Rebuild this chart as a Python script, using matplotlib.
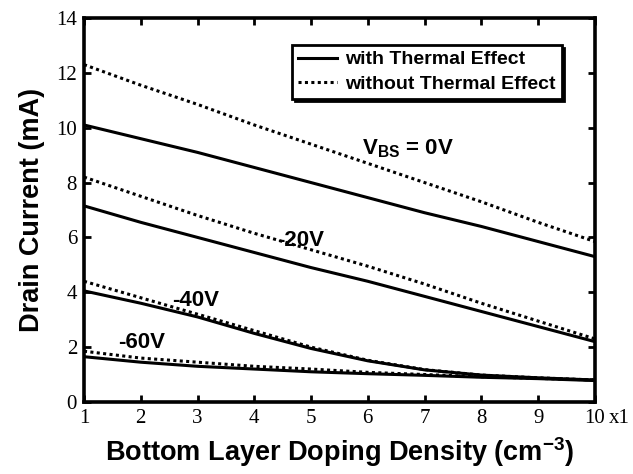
import numpy as np
import matplotlib
matplotlib.use('Agg')
import matplotlib.pyplot as plt

# Doping density (x 1e17 cm^-3)
x = [1, 2, 3, 4, 5, 6, 7, 8, 9, 10]

# Drain current (mA), with / without thermal effect
with_0v = [10.1, 9.6, 9.1, 8.55, 8.0, 7.45, 6.9, 6.4, 5.85, 5.3]
wo_0v = [12.3, 11.55, 10.85, 10.1, 9.4, 8.7, 8.0, 7.3, 6.55, 5.85]
with_20v = [7.15, 6.55, 6.0, 5.45, 4.9, 4.4, 3.85, 3.3, 2.75, 2.2]
wo_20v = [8.2, 7.5, 6.8, 6.15, 5.55, 4.95, 4.3, 3.6, 2.95, 2.3]
with_40v = [4.05, 3.6, 3.1, 2.5, 1.95, 1.5, 1.17, 0.98, 0.88, 0.8]
wo_40v = [4.4, 3.8, 3.2, 2.6, 2.0, 1.52, 1.18, 0.98, 0.88, 0.8]
with_60v = [1.65, 1.45, 1.3, 1.2, 1.1, 1.03, 0.97, 0.9, 0.85, 0.78]
wo_60v = [1.85, 1.6, 1.45, 1.3, 1.2, 1.08, 1.0, 0.92, 0.86, 0.8]

curve_labels = ['$\\mathregular{V_{BS}}$ = 0V', '-20V', '-40V', '-60V']
label_pos = [(5.9, 9.25), (4.4, 5.9), (2.55, 3.7), (1.6, 2.15)]

fig = plt.figure(figsize=(6.33, 4.74), dpi=100)
ax = fig.add_axes([0.1327, 0.152, 0.807, 0.810])

lw = 2.2
dots = (0, (1, 1.1))
for w, wo in [(with_0v, wo_0v), (with_20v, wo_20v), (with_40v, wo_40v), (with_60v, wo_60v)]:
    ax.plot(x, w, color='black', lw=lw, solid_capstyle='butt')
    ax.plot(x, wo, color='black', lw=lw, linestyle=dots)

for txt, (tx, ty) in zip(curve_labels, label_pos):
    ax.text(tx, ty, txt, fontsize=16, fontweight='bold', family='Liberation Sans',
            ha='left', va='center')

ax.set_xlim(1, 10)
ax.set_ylim(0, 14)
ax.set_xticks(range(1, 11))
ax.set_yticks(range(0, 15, 2))
ax.tick_params(direction='in', top=True, right=True, length=5, width=2, pad=5)
for lab in ax.get_xticklabels() + ax.get_yticklabels():
    lab.set_family('Liberation Serif')
    lab.set_fontsize(15)
for s in ax.spines.values():
    s.set_linewidth(2.6)

ax.text(1.028, -0.018, 'x1', transform=ax.transAxes, family='Liberation Serif',
        fontsize=15, ha='left', va='top')

ax.set_xlabel('Bottom Layer Doping Density (cm$^{\\mathregular{-3}}$)', fontsize=19.5,
              fontweight='bold', family='Liberation Sans', labelpad=5)
ax.set_ylabel('Drain Current (mA)', fontsize=19.5, fontweight='bold',
              family='Liberation Sans', labelpad=8)

h1, = ax.plot([], [], color='black', lw=lw)
h2, = ax.plot([], [], color='black', lw=lw, linestyle=dots)
leg = ax.legend([h1, h2], ['with Thermal Effect', 'without Thermal Effect'],
                loc='upper right', bbox_to_anchor=(0.935, 0.93), fancybox=False,
                shadow={'color': 'black', 'alpha': 1}, framealpha=1, edgecolor='black',
                handlelength=2.0, handletextpad=0.45, borderpad=0.3, labelspacing=0.35,
                borderaxespad=0,
                prop={'family': 'Liberation Sans', 'weight': 'bold', 'size': 14})
leg.get_frame().set_linewidth(2)

fig.savefig('out.png', dpi=100)
